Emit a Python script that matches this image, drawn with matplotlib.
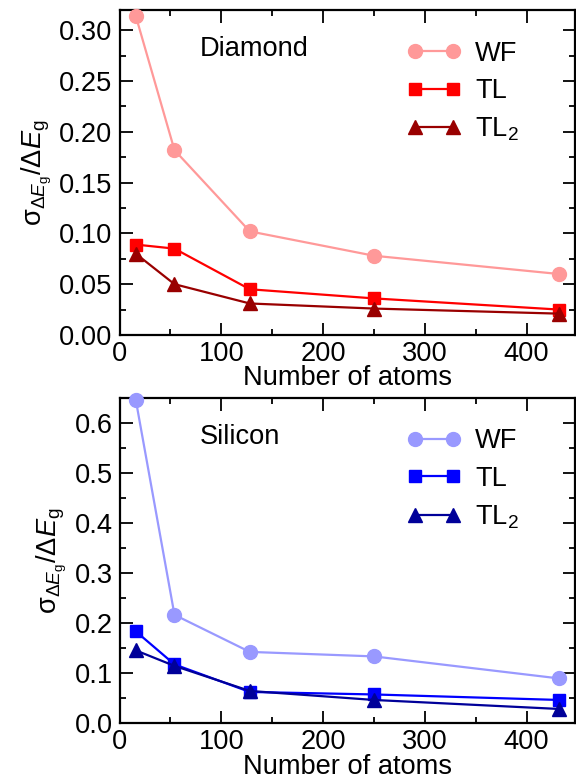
import numpy as np
import matplotlib
matplotlib.use('Agg')
import matplotlib.pyplot as plt
from matplotlib.ticker import MultipleLocator

plt.rcParams['font.family'] = ['Liberation Sans', 'DejaVu Sans']
plt.rcParams['mathtext.fontset'] = 'custom'
plt.rcParams['mathtext.rm'] = 'Liberation Sans'
plt.rcParams['mathtext.it'] = 'Liberation Sans:italic'
plt.rcParams['mathtext.sf'] = 'Liberation Sans'
plt.rcParams['font.size'] = 19.6

natoms = [16, 54, 128, 250, 432]

# diamond
dia_wf = [0.314, 0.182, 0.102, 0.078, 0.060]
dia_tl = [0.089, 0.085, 0.045, 0.036, 0.025]
dia_tl2 = [0.080, 0.050, 0.031, 0.026, 0.021]

# silicon
si_wf = [0.646, 0.217, 0.143, 0.134, 0.090]
si_tl = [0.184, 0.118, 0.063, 0.058, 0.047]
si_tl2 = [0.146, 0.115, 0.065, 0.047, 0.029]

labels = ['WF', 'TL', r'TL$_2$']
ylab = r'$\mathrm{\sigma}_{\Delta E_{\mathrm{g}}}/\Delta E_{\mathrm{g}}$'


def style_axis(ax, ymax, ymajor):
    ax.set_xlim(0, 448)
    ax.set_ylim(0, ymax)
    ax.xaxis.set_major_locator(MultipleLocator(100))
    ax.xaxis.set_minor_locator(MultipleLocator(50))
    ax.yaxis.set_major_locator(MultipleLocator(ymajor))
    ax.yaxis.set_minor_locator(MultipleLocator(ymajor / 2))
    ax.tick_params(which='both', direction='in', top=True, right=True, width=1.3)
    ax.tick_params(which='major', length=9, pad=5)
    ax.tick_params(which='minor', length=4.5)
    ax.tick_params(axis='x', which='major', pad=4)
    for sp in ax.spines.values():
        sp.set_linewidth(1.6)
    ax.set_xlabel('Number of atoms', labelpad=-1)
    ax.set_ylabel(ylab, labelpad=4)


def plot_panel(ax, series, colors, title, ymax, ymajor):
    markers = ['o', 's', '^']
    sizes = [10, 8.5, 9.5]
    for vals, c, m, ms, lab in zip(series, colors, markers, sizes, labels):
        ax.plot(natoms, vals, color=c, marker=m, markersize=ms, lw=1.6,
                label=lab, clip_on=False, zorder=3)
    style_axis(ax, ymax, ymajor)
    ax.text(0.1766, 0.858, title, transform=ax.transAxes, va='baseline', ha='left')
    ax.legend(loc='upper left', bbox_to_anchor=(0.631, 0.905), frameon=False,
              numpoints=2, handlelength=2.0, handletextpad=0.5,
              labelspacing=0.42, borderpad=0, borderaxespad=0)


fig = plt.figure(figsize=(5.76, 7.83), dpi=100)
ax_d = fig.add_axes([0.2075, 0.5722, 0.7915, 0.4151])
ax_s = fig.add_axes([0.2075, 0.076, 0.7915, 0.4163])

plot_panel(ax_d, [dia_wf, dia_tl, dia_tl2], ['#ff9999', '#ff0000', '#990000'],
           'Diamond', 0.32, 0.05)
ax_d.yaxis.set_major_formatter(matplotlib.ticker.FormatStrFormatter('%.2f'))
plot_panel(ax_s, [si_wf, si_tl, si_tl2], ['#9999ff', '#0000ff', '#000099'],
           'Silicon', 0.651, 0.1)
ax_s.yaxis.set_major_formatter(matplotlib.ticker.FormatStrFormatter('%.1f'))

fig.savefig('out.png', dpi=100)
